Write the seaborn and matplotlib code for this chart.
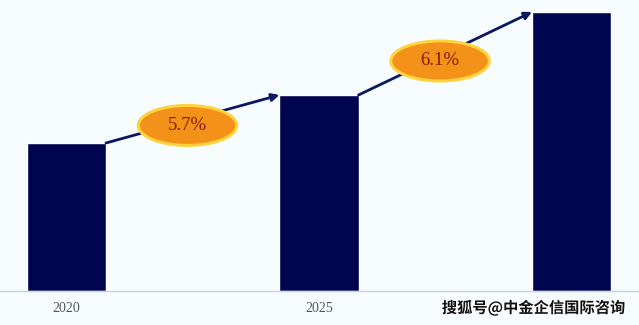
import matplotlib
matplotlib.use("Agg")
import matplotlib.pyplot as plt
import matplotlib.patheffects as pe
from matplotlib.patches import Ellipse, FancyArrowPatch
import seaborn as sns
import pandas as pd

years = ["2020", "2025", "2030"]
values = [148, 196, 279]
growth_labels = ["5.7%", "6.1%"]
# the reference shows the last year label hidden under the watermark
tick_labels = ["2020", "2025", ""]

BG = "#F7FDFF"
NAVY = "#000550"

sns.set_theme(style="white")
plt.rcParams["font.family"] = ["Liberation Serif", "DejaVu Sans"]

df = pd.DataFrame({"year": years, "value": values})

fig = plt.figure(figsize=(6.39, 3.25), dpi=100, facecolor=BG)
ax = fig.add_axes([0, 34 / 325, 1, 291 / 325])
ax.set_facecolor(BG)

bw = 0.313
sns.barplot(data=df, x="year", y="value", color=NAVY, saturation=1, width=bw, ax=ax)

ax.set_xlim(-0.263, 2.267)
ax.set_ylim(0, 291)
ax.set_xlabel("")
ax.set_ylabel("")
ax.set_yticks([])
ax.set_xticks(range(len(years)))
ax.set_xticklabels(tick_labels)
for s in ["top", "left", "right"]:
    ax.spines[s].set_visible(False)
ax.spines["bottom"].set_color("#C9D2D8")
ax.spines["bottom"].set_linewidth(1.0)
ax.tick_params(axis="x", length=0, pad=8, labelsize=10, colors="#555555")

for i in range(len(values) - 1):
    x0, y0 = i + bw / 2, values[i]
    x1, y1 = i + 1 - bw / 2, values[i + 1]
    arr = FancyArrowPatch((x0, y0), (x1, y1), arrowstyle="-|>", mutation_scale=11,
                          color="#0B1760", lw=2.0, shrinkA=0, shrinkB=0, zorder=4)
    ax.add_patch(arr)
    t = 0.47
    cx = x0 + t * (x1 - x0)
    cy = y0 + t * (y1 - y0) - 5
    ell = Ellipse((cx, cy), width=0.39, height=40, facecolor="#F39118",
                  edgecolor="#FFD23F", lw=2.2, zorder=5)
    ax.add_patch(ell)
    ax.text(cx, cy, growth_labels[i], ha="center", va="center", fontsize=13.5,
            color="#8A1A05", family=["Liberation Serif"], zorder=6)

fig.text(0.978, 0.052, "搜狐号@中金企信国际咨询", ha="right", va="center",
         fontsize=11, fontweight="bold", color="#111111",
         family=["Noto Sans CJK SC", "DejaVu Sans"],
         path_effects=[pe.withStroke(linewidth=2, foreground="white")])

fig.savefig("out.png", dpi=100, facecolor=BG)
